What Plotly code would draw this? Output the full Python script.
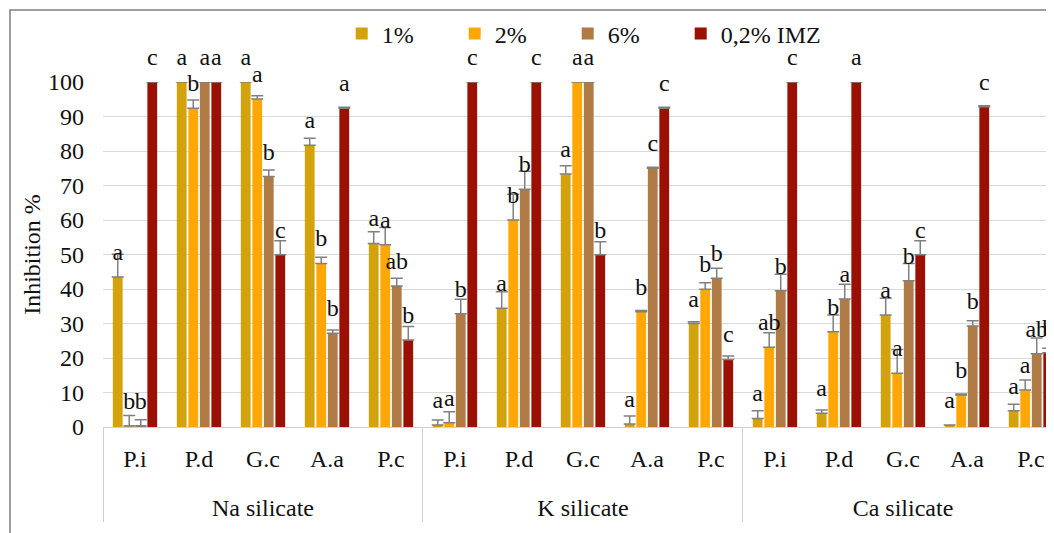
import plotly.graph_objects as go

groups = ["Na silicate", "K silicate", "Ca silicate"]
fungi = ["P.i", "P.d", "G.c", "A.a", "P.c"]

series_names = ["1%", "2%", "6%", "0,2% IMZ"]
series_colors = ["#D4A30C", "#FFA805", "#B07A45", "#9C1004"]

v1 = [43.5, 100, 100, 81.7, 53.2, 0.6, 34.4, 73.3, 0.9, 30.0, 2.5, 4.0, 32.5, 0.6, 4.7]
e1 = [6.6, 0, 0, 2.0, 3.4, 1.4, 4.8, 2.4, 2.3, 0.5, 2.2, 0.9, 4.8, 0, 1.9]
l1 = ["a", "a", "a", "a", "a", "a", "a", "a", "a", "a", "a", "a", "a", "a", "a"]

v2 = [0.3, 92.4, 95.1, 47.4, 52.8, 1.2, 60.0, 100, 33.4, 39.9, 23.1, 27.6, 15.6, 9.3, 10.7]
e2 = [3.0, 2.4, 0.9, 1.8, 5.0, 3.2, 7.5, 0, 0.4, 1.9, 4.2, 4.9, 6.9, 0.3, 2.9]
l2 = ["b", "b", "a", "b", "a", "a", "b", "a", "b", "b", "ab", "b", "a", "b", "a"]

v3 = [0.3, 100, 72.6, 27.2, 40.9, 32.8, 68.9, 100, 75.0, 43.1, 39.5, 37.1, 42.4, 29.3, 21.2]
e3 = [1.8, 0, 1.9, 0.9, 2.2, 4.2, 5.2, 0, 0.3, 2.9, 4.8, 4.3, 5.0, 1.5, 4.6]
l3 = ["b", "a", "b", "b", "ab", "b", "b", "a", "c", "b", "b", "a", "b", "b", "ab"]

v4 = [100, 100, 49.9, 92.4, 25.2, 100, 100, 49.9, 92.4, 19.6, 100, 100, 49.9, 92.8, 21.5]
e4 = [0, 0, 4.1, 0.3, 3.9, 0, 0, 3.8, 0.3, 1.0, 0, 0, 4.1, 0.3, 1.3]
l4 = ["c", "a", "c", "a", "b", "c", "c", "b", "c", "c", "c", "a", "c", "c", "b"]

values = [v1, v2, v3, v4]
errors = [e1, e2, e3, e4]
letters = [l1, l2, l3, l4]

xg = ["<br>" + g for g in groups for _ in fungi]
xf = [f for _ in groups for f in fungi]

FONT = "Liberation Serif"
FS = 24
BARGAP = 0.28
PAD = "\u00a0" * 6

def fnt(size=FS):
    return dict(family=FONT, size=size, color="#111111")

fig = go.Figure()
for i in range(4):
    legend_name = series_names[i] + (PAD if i < 3 else "")
    fig.add_trace(go.Bar(
        x=[xg, xf], y=values[i], name=legend_name,
        marker=dict(color=series_colors[i], line=dict(width=0)),
        offsetgroup=str(i),
        error_y=dict(type="data", array=errors[i], arrayminus=[0] * len(errors[i]),
                     symmetric=False, color="#808080", thickness=1.5, width=6),
    ))
for i in range(4):
    fig.add_trace(go.Scatter(
        x=[xg, xf], y=values[i], mode="markers+text", text=letters[i],
        textposition="top center", offsetgroup=str(i), showlegend=False,
        marker=dict(size=16, color="rgba(0,0,0,0)"),
        textfont=fnt(),
        cliponaxis=False, hoverinfo="skip",
    ))

fig.update_layout(
    template="none",
    width=1046, height=525,
    margin=dict(l=95, r=0, t=74, b=106),
    paper_bgcolor="white", plot_bgcolor="white",
    barmode="group", bargap=BARGAP, bargroupgap=0.15,
    scattermode="group", scattergap=BARGAP,
    font=fnt(),
    legend=dict(orientation="h", x=0.251, xanchor="left", y=1.205, yanchor="top",
                font=fnt(),
                bgcolor="rgba(0,0,0,0)", itemclick=False),
    xaxis=dict(type="multicategory", range=[-0.5, 14.36], showgrid=False,
               showline=True, linecolor="#d0d0d0", linewidth=1,
               showdividers=True, dividercolor="#d0d0d0", dividerwidth=1,
               ticklabelstandoff=10,
               tickfont=fnt(), ticks=""),
    yaxis=dict(range=[0, 100], dtick=10, showgrid=True, gridcolor="#d9d9d9",
               gridwidth=1, zeroline=False, showline=False, ticks="",
               ticklabelstandoff=18,
               tickfont=fnt(),
               title=dict(text="Inhibition %", font=fnt(), standoff=0)),
    shapes=[dict(type="rect", xref="paper", yref="paper",
                 x0=(2 - 95) / 951, x1=1.5, y0=-1.0, y1=(419 - 2) / 345,
                 line=dict(color="#7f7f7f", width=1.5), fillcolor="rgba(0,0,0,0)",
                 layer="below")],
)

fig.write_html("out.html")
